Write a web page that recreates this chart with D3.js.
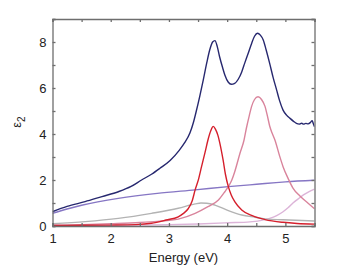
<!DOCTYPE html>
<html>
<head>
<meta charset="utf-8">
<script src="https://cdn.jsdelivr.net/npm/d3@7"></script>
<style>
  body { margin: 0; background: #fff; }
  text { font-family: "Liberation Sans", Arial, sans-serif; }
</style>
</head>
<body>
<div id="chart"></div>
<script>
var svgWidth = 353;
var svgHeight = 274;

// curves: [energy (eV), eps2]
var totalEps = [[1.0,0.62],[1.25,0.85],[1.56,1.06],[1.85,1.28],[2.13,1.49],[2.35,1.72],[2.53,2.0],[2.7,2.25],[2.84,2.5],[3.02,2.85],[3.18,3.3],[3.27,3.62],[3.36,4.04],[3.42,4.5],[3.47,5.0],[3.53,5.65],[3.59,6.35],[3.65,7.1],[3.70,7.65],[3.75,8.0],[3.79,8.06],[3.83,7.8],[3.87,7.36],[3.92,6.9],[3.96,6.57],[4.02,6.25],[4.07,6.16],[4.13,6.2],[4.19,6.38],[4.25,6.7],[4.30,7.07],[4.36,7.5],[4.42,7.94],[4.47,8.25],[4.52,8.38],[4.57,8.3],[4.62,8.09],[4.67,7.65],[4.73,7.07],[4.79,6.45],[4.85,5.91],[4.90,5.45],[4.96,5.04],[5.02,4.82],[5.08,4.68],[5.14,4.55],[5.19,4.46],[5.24,4.43],[5.28,4.47],[5.31,4.43],[5.35,4.46],[5.39,4.44],[5.43,4.5],[5.46,4.58],[5.48,4.45],[5.5,4.32]];
var peakOne = [[1.0,0.02],[1.5,0.03],[2.0,0.04],[2.43,0.06],[2.7,0.12],[2.95,0.26],[3.16,0.4],[3.25,0.55],[3.33,0.75],[3.40,1.1],[3.45,1.57],[3.51,2.05],[3.56,2.58],[3.62,3.2],[3.67,3.74],[3.72,4.15],[3.76,4.33],[3.80,4.2],[3.84,3.95],[3.87,3.65],[3.93,2.87],[3.97,2.25],[4.02,1.71],[4.07,1.35],[4.13,1.06],[4.25,0.7],[4.42,0.46],[4.65,0.28],[4.96,0.16],[5.2,0.11],[5.5,0.08]];
var peakTwo = [[1.0,0.03],[1.5,0.06],[2.0,0.1],[2.5,0.15],[2.8,0.2],[3.16,0.3],[3.45,0.55],[3.67,0.84],[3.85,1.13],[3.96,1.49],[4.02,1.71],[4.08,2.0],[4.13,2.36],[4.22,3.16],[4.29,3.74],[4.33,4.25],[4.38,4.8],[4.42,5.2],[4.47,5.5],[4.53,5.62],[4.59,5.5],[4.65,5.2],[4.69,4.8],[4.73,4.35],[4.77,4.05],[4.82,3.74],[4.90,3.05],[4.96,2.58],[5.05,2.05],[5.13,1.65],[5.25,1.3],[5.39,0.99],[5.5,0.75]];
var background = [[1.0,0.55],[1.25,0.74],[1.5,0.9],[2.13,1.2],[2.8,1.42],[3.45,1.57],[4.02,1.71],[4.39,1.79],[4.65,1.85],[5.0,1.92],[5.5,1.99]];
var broadPeak = [[1.0,0.1],[1.56,0.19],[2.13,0.33],[2.7,0.55],[3.16,0.77],[3.45,0.96],[3.55,1.0],[3.65,0.99],[3.79,0.91],[4.02,0.67],[4.25,0.48],[4.48,0.38],[4.65,0.31],[4.96,0.27],[5.5,0.22]];
var uvTail = [[1.0,0.02],[2.0,0.03],[3.0,0.06],[3.5,0.09],[4.02,0.14],[4.39,0.18],[4.65,0.28],[4.73,0.33],[4.85,0.45],[4.96,0.62],[5.05,0.8],[5.13,1.0],[5.22,1.18],[5.31,1.35],[5.4,1.48],[5.5,1.6]];

var xTicks = [1, 2, 3, 4, 5];
var yTicks = [0, 2, 4, 6, 8];

var margin = {top: 19, right: 38.5, bottom: 48, left: 52.5};
var width = svgWidth - margin.left - margin.right;
var height = svgHeight - margin.top - margin.bottom;

var svg = d3.select("#chart")
  .append("svg")
  .attr("width", svgWidth)
  .attr("height", svgHeight);

var chartGroup = svg.append("g")
  .attr("transform", `translate(${margin.left}, ${margin.top})`);

var xScale = d3.scaleLinear().domain([1, 5.5]).range([0, width]);
var yScale = d3.scaleLinear().domain([0, 9]).range([height, 0]);

var line = d3.line()
  .x(d => xScale(d[0]))
  .y(d => yScale(d[1]))
  .curve(d3.curveMonotoneX);

var series = [
  {data: uvTail, color: "#dcb4d8"},
  {data: broadPeak, color: "#b3b3b3"},
  {data: background, color: "#8676c4"},
  {data: peakTwo, color: "#d9849c"},
  {data: peakOne, color: "#d51f2c"},
  {data: totalEps, color: "#27286f"}
];

chartGroup.append("defs").append("clipPath").attr("id", "clip")
  .append("rect").attr("width", width).attr("height", height);

chartGroup.append("g").attr("clip-path", "url(#clip)")
  .selectAll("path")
  .data(series)
  .enter()
  .append("path")
  .attr("d", d => line(d.data))
  .attr("fill", "none")
  .attr("stroke", d => d.color)
  .attr("stroke-width", 1.4);

// axes: ticks point inward, mirrored on top / right
var axisColor = "#6e6e6e";
var minorX = d3.range(1, 5.51, 0.5);
var minorY = d3.range(0, 9.01, 1);

var bottomAxis = d3.axisBottom(xScale).tickValues(minorX).tickSize(-3)
  .tickFormat(d => xTicks.includes(d) ? d : "");
var topAxis = d3.axisTop(xScale).tickValues(minorX).tickSize(-3).tickFormat("");
var leftAxis = d3.axisLeft(yScale).tickValues(minorY).tickSize(-3)
  .tickFormat(d => yTicks.includes(d) ? d : "");
var rightAxis = d3.axisRight(yScale).tickValues(minorY).tickSize(-3).tickFormat("");

function styleAxis(g) {
  g.selectAll("path, line").attr("stroke", axisColor).attr("stroke-width", 1.3);
  g.selectAll("text").attr("fill", "#222").attr("font-size", 13)
    .style("font-family", "'Liberation Sans', Arial, sans-serif");
}

chartGroup.append("g").attr("transform", `translate(0, ${height})`)
  .call(bottomAxis).call(styleAxis)
  .selectAll("text").attr("dy", "0.95em").attr("y", 5);
chartGroup.append("g").call(topAxis).call(styleAxis);
chartGroup.append("g").call(leftAxis).call(styleAxis)
  .selectAll("text").attr("x", -6);
chartGroup.append("g").attr("transform", `translate(${width}, 0)`)
  .call(rightAxis).call(styleAxis);

// axis labels
chartGroup.append("text")
  .attr("x", width / 2)
  .attr("y", height + 36)
  .attr("text-anchor", "middle")
  .attr("font-size", 13)
  .attr("fill", "#222")
  .text("Energy (eV)");

var yLabel = svg.append("text")
  .attr("transform", "translate(21, 122) rotate(-90)")
  .attr("text-anchor", "middle")
  .attr("font-size", 13)
  .attr("fill", "#222");
yLabel.append("tspan").text("ε");
yLabel.append("tspan").attr("dy", 4).attr("font-size", 10).text("2");
</script>
</body>
</html>
